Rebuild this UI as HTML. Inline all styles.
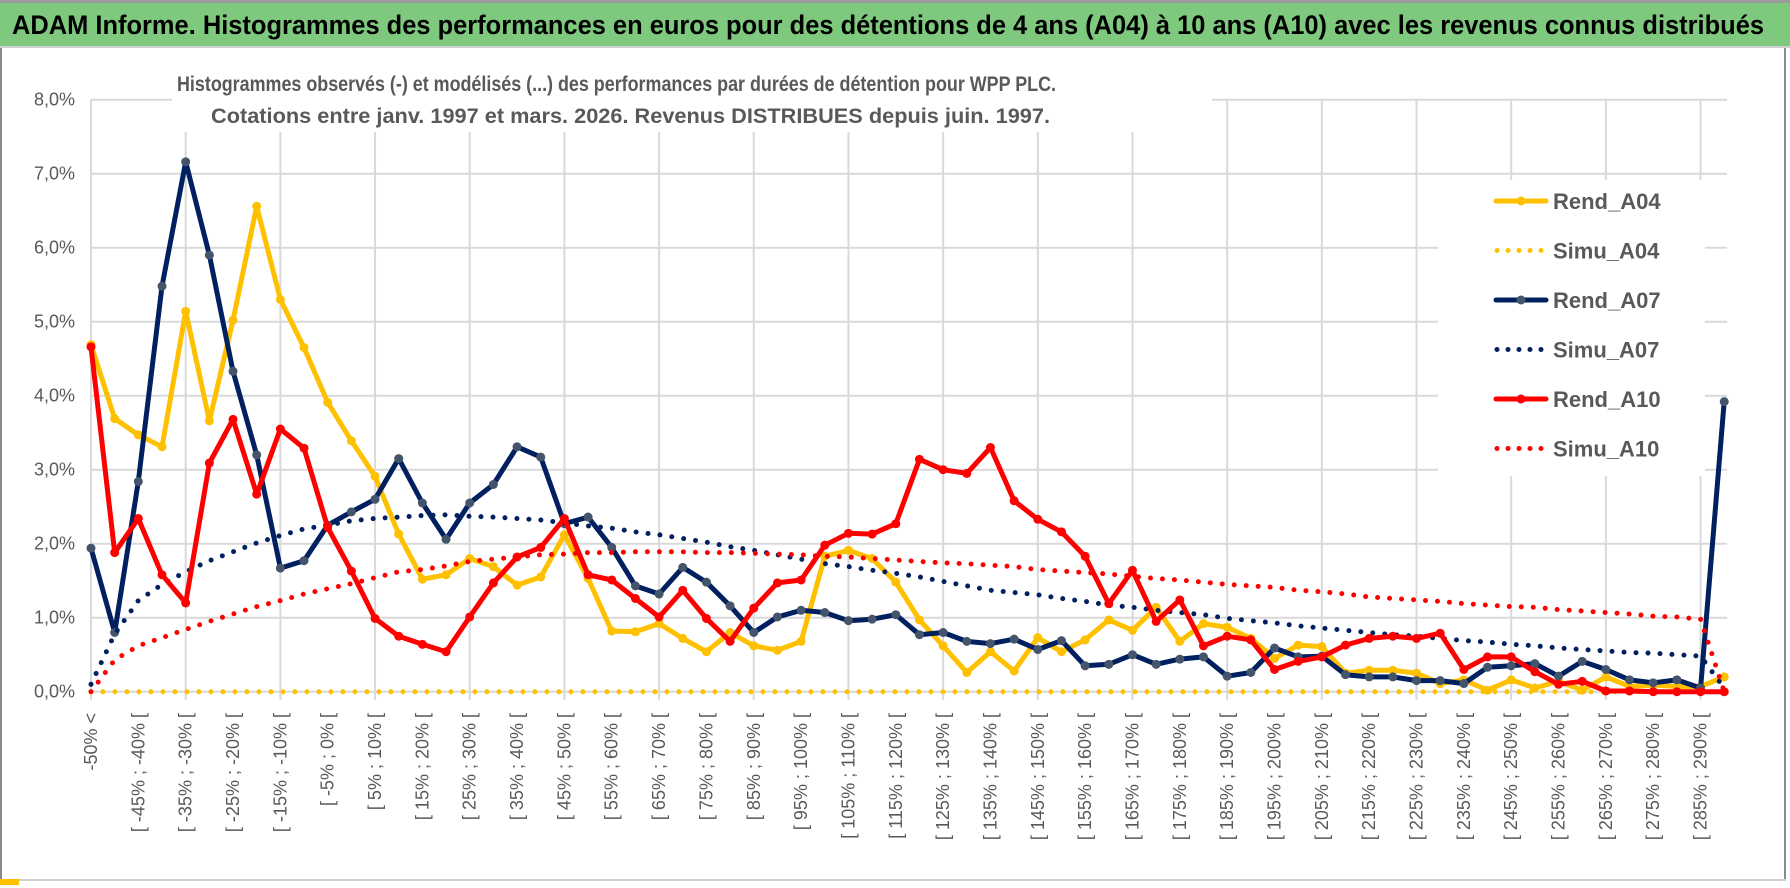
<!DOCTYPE html>
<html><head><meta charset="utf-8"><style>
html,body{margin:0;padding:0;background:#fff;}
svg{display:block;font-family:"Liberation Sans Narrow","Liberation Sans",sans-serif;}
</style></head><body>
<svg id="chart" width="1790" height="888" viewBox="0 0 1790 888">
<rect x="0" y="0" width="1790" height="888" fill="#fff"/>
<rect x="0" y="0" width="1790" height="3" fill="#9a9a9a"/>
<rect x="0" y="3" width="1790" height="43" fill="#7fc97f"/>
<text x="12" y="34" font-size="27" font-weight="bold" fill="#000" textLength="1752" lengthAdjust="spacingAndGlyphs">ADAM Informe. Histogrammes des performances en euros pour des détentions de 4 ans (A04) à 10 ans (A10) avec les revenus connus distribués</text>
<rect x="0" y="46" width="1790" height="2" fill="#d0d0d0"/>
<rect x="0" y="48" width="2" height="833" fill="#8a8a8a"/>
<rect x="1784" y="48" width="2" height="833" fill="#8a8a8a"/>
<rect x="0" y="879" width="1786" height="2" fill="#d0d0d0"/>
<rect x="0" y="879" width="19" height="6" fill="#ffc000"/>
<g id="grid"></g>
<g id="axes"></g>
<g id="series"></g>
<rect x="172" y="70" width="1040" height="62" fill="#fff"/>
<text x="177" y="91" font-size="21" font-weight="bold" fill="#595959" textLength="879" lengthAdjust="spacingAndGlyphs">Histogrammes observés (-) et modélisés (...) des performances par durées de détention pour WPP PLC.</text>
<text x="211" y="123" font-size="21" font-weight="bold" fill="#595959" textLength="839" lengthAdjust="spacingAndGlyphs">Cotations entre janv. 1997 et mars. 2026. Revenus DISTRIBUES depuis juin. 1997.</text>
<g id="legend"></g>
</svg>
<script>
const yTicks = [0,1,2,3,4,5,6,7,8];
const rendA04 = [4.69,3.69,3.47,3.31,5.14,3.66,5.02,6.56,5.30,4.65,3.91,3.39,2.91,2.13,1.52,1.58,
1.80,1.69,1.44,1.55,2.12,1.53,0.82,0.81,0.92,0.72,0.54,0.80,0.62,0.56,0.68,1.83,1.91,1.80,1.48,
0.97,0.62,0.26,0.54,0.28,0.73,0.54,0.70,0.97,0.83,1.14,0.68,0.92,0.87,0.72,0.45,0.63,0.61,
0.25,0.29,0.29,0.25,0.11,0.16,0.02,0.16,0.05,0.14,0.02,0.20,0.07,0.09,0.07,0.07,0.20];
const simuA04 = [0,0,0,0,0,0,0,0,0,0,0,0,0,0,0,0,0,0,0,0,0,0,0,0,0,0,0,0,0,0,0,0,0,0,0,0,0,0,0,0,0,0,0,0,0,0,0,0,0,0,0,0,0,0,0,0,0,0,0,0,0,0,0,0,0,0,0,0,0,0];
const rendA07 = [1.94,0.80,2.84,5.48,7.16,5.90,4.33,3.20,1.67,1.77,2.25,2.43,2.60,3.15,2.55,2.06,
2.55,2.80,3.31,3.17,2.27,2.36,1.95,1.43,1.32,1.68,1.48,1.16,0.80,1.01,1.10,1.07,0.96,0.98,1.04,
0.77,0.80,0.68,0.65,0.71,0.57,0.69,0.35,0.37,0.50,0.37,0.44,0.47,0.21,0.26,0.59,0.47,0.48,
0.23,0.20,0.20,0.15,0.15,0.11,0.33,0.35,0.38,0.21,0.41,0.30,0.16,0.12,0.16,0.05,3.92];
const simuA07 = [0.10,0.78,1.23,1.45,1.62,1.77,1.89,2.01,2.11,2.20,2.25,2.31,2.34,2.36,2.38,2.39,
2.37,2.36,2.34,2.32,2.28,2.24,2.21,2.16,2.12,2.07,2.02,1.96,1.91,1.85,1.79,1.73,1.69,1.64,1.60,
1.55,1.49,1.43,1.37,1.34,1.31,1.26,1.22,1.17,1.14,1.10,1.07,1.04,0.99,0.96,0.93,0.89,0.86,
0.83,0.80,0.77,0.75,0.72,0.69,0.67,0.64,0.62,0.59,0.57,0.55,0.53,0.52,0.50,0.48,0.05];
const rendA10 = [4.66,1.88,2.34,1.58,1.20,3.09,3.68,2.67,3.55,3.29,2.22,1.63,0.99,0.75,0.64,0.54,
1.01,1.47,1.82,1.95,2.34,1.58,1.51,1.26,1.01,1.37,0.99,0.68,1.13,1.47,1.51,1.98,2.14,2.13,2.27,
3.14,3.00,2.95,3.30,2.58,2.33,2.16,1.83,1.19,1.64,0.95,1.24,0.62,0.75,0.70,0.30,0.41,0.47,
0.63,0.72,0.75,0.72,0.79,0.30,0.47,0.47,0.27,0.10,0.14,0.01,0.01,0,0,0,0];
const simuA10 = [0,0.43,0.62,0.73,0.84,0.95,1.05,1.15,1.23,1.32,1.39,1.46,1.54,1.62,1.65,1.70,
1.76,1.79,1.82,1.85,1.86,1.88,1.88,1.89,1.89,1.89,1.88,1.88,1.87,1.86,1.85,1.83,1.82,1.80,1.78,
1.76,1.74,1.73,1.71,1.69,1.65,1.63,1.61,1.59,1.56,1.53,1.51,1.48,1.45,1.43,1.41,1.37,1.35,
1.32,1.28,1.26,1.24,1.22,1.19,1.17,1.15,1.14,1.11,1.09,1.07,1.05,1.02,1.01,0.98,0];
const categories = ["-50% <"];
for (let a = -50; a < 290; a += 5) categories.push("[ " + a + "% ; " + (a + 5) + "% [");
categories.push("> 290%");

const NS = "http://www.w3.org/2000/svg";
const X0 = 91, DX = 23.67, Y0 = 691.7, PPU = 74, XR = 1727;
function xs(i){ return X0 + DX * i; }
function ys(v){ return Y0 - PPU * v; }
function mk(tag, attrs, parent){ const e = document.createElementNS(NS, tag); for (const k in attrs) e.setAttribute(k, attrs[k]); parent.appendChild(e); return e; }

const grid = document.getElementById("grid");
const axes = document.getElementById("axes");
yTicks.forEach(t => {
  const l = mk("line", {x1: X0, x2: XR, y1: ys(t), y2: ys(t), stroke: "#d9d9d9", "stroke-width": 2}, grid);
  
  
  const tx = mk("text", {x: 75, y: ys(t) + 6, "font-size": 18, fill: "#595959", "text-anchor": "end"}, axes);
  tx.textContent = t.toFixed(1).replace(".", ",") + "%";
  
  
});
for (let i = 0; i < categories.length; i += 4) {
  const l = mk("line", {x1: xs(i), x2: xs(i), y1: ys(8), y2: Y0 + 8, stroke: "#d9d9d9", "stroke-width": 2}, grid);
  
  
}
for (let i = 0; i < categories.length; i += 2) {
  const x = xs(i), y = 713;
  const tx = mk("text", {x: x, y: y, "font-size": 18, fill: "#595959", "text-anchor": "end", "dominant-baseline": "central", transform: "rotate(-90 " + x + " " + y + ")"}, axes);
  tx.textContent = categories[i];
  
  
}

const seriesG = document.getElementById("series");
function pts(arr){ return arr.map((v, i) => xs(i).toFixed(1) + "," + ys(v).toFixed(1)).join(" "); }
function drawRend(arr, color, mcolor, name){
  const g = mk("g", {}, seriesG);
  
  
  mk("polyline", {points: pts(arr), fill: "none", stroke: color, "stroke-width": 5, "stroke-linejoin": "round"}, g);
  arr.forEach((v, i) => {
    const c = mk("circle", {cx: xs(i), cy: ys(v), r: 4.5, fill: mcolor}, g);
    
    
  });
}
function drawSimu(arr, color, name){
  const p = mk("polyline", {points: pts(arr), fill: "none", stroke: color, "stroke-width": 5, "stroke-linecap": "round", "stroke-dasharray": "0 12"}, seriesG);
  
  
}
drawRend(rendA04, "#ffc000", "#ffc000", "rend-a04-line");
drawSimu(simuA04, "#ffc000", "simu-a04-line");
drawRend(rendA07, "#002060", "#44546a", "rend-a07-line");
drawSimu(simuA07, "#002060", "simu-a07-line");
drawRend(rendA10, "#ff0000", "#ff0000", "rend-a10-line");
drawSimu(simuA10, "#ff0000", "simu-a10-line");

const lg = document.getElementById("legend");
mk("rect", {x: 1438, y: 180, width: 267, height: 296, fill: "#fff"}, lg);
const legendItems = [["Rend_A04","#ffc000","#ffc000",false],["Simu_A04","#ffc000","",true],["Rend_A07","#002060","#44546a",false],["Simu_A07","#002060","",true],["Rend_A10","#ff0000","#ff0000",false],["Simu_A10","#ff0000","",true]];
legendItems.forEach((it, k) => {
  const y = 201 + k * 49.5;
  const g = mk("g", {}, lg);
  
  
  if (it[3]) {
    mk("line", {x1: 1497, x2: 1547, y1: y, y2: y, stroke: it[1], "stroke-width": 5, "stroke-linecap": "round", "stroke-dasharray": "0 11"}, g);
  } else {
    mk("line", {x1: 1496, x2: 1546, y1: y, y2: y, stroke: it[1], "stroke-width": 5, "stroke-linecap": "round"}, g);
    mk("circle", {cx: 1521, cy: y, r: 4.5, fill: it[2]}, g);
  }
  const t = mk("text", {x: 1553, y: y + 8, "font-size": 22, "font-weight": "bold", fill: "#595959"}, g);
  t.textContent = it[0];
});
</script>
</body></html>
